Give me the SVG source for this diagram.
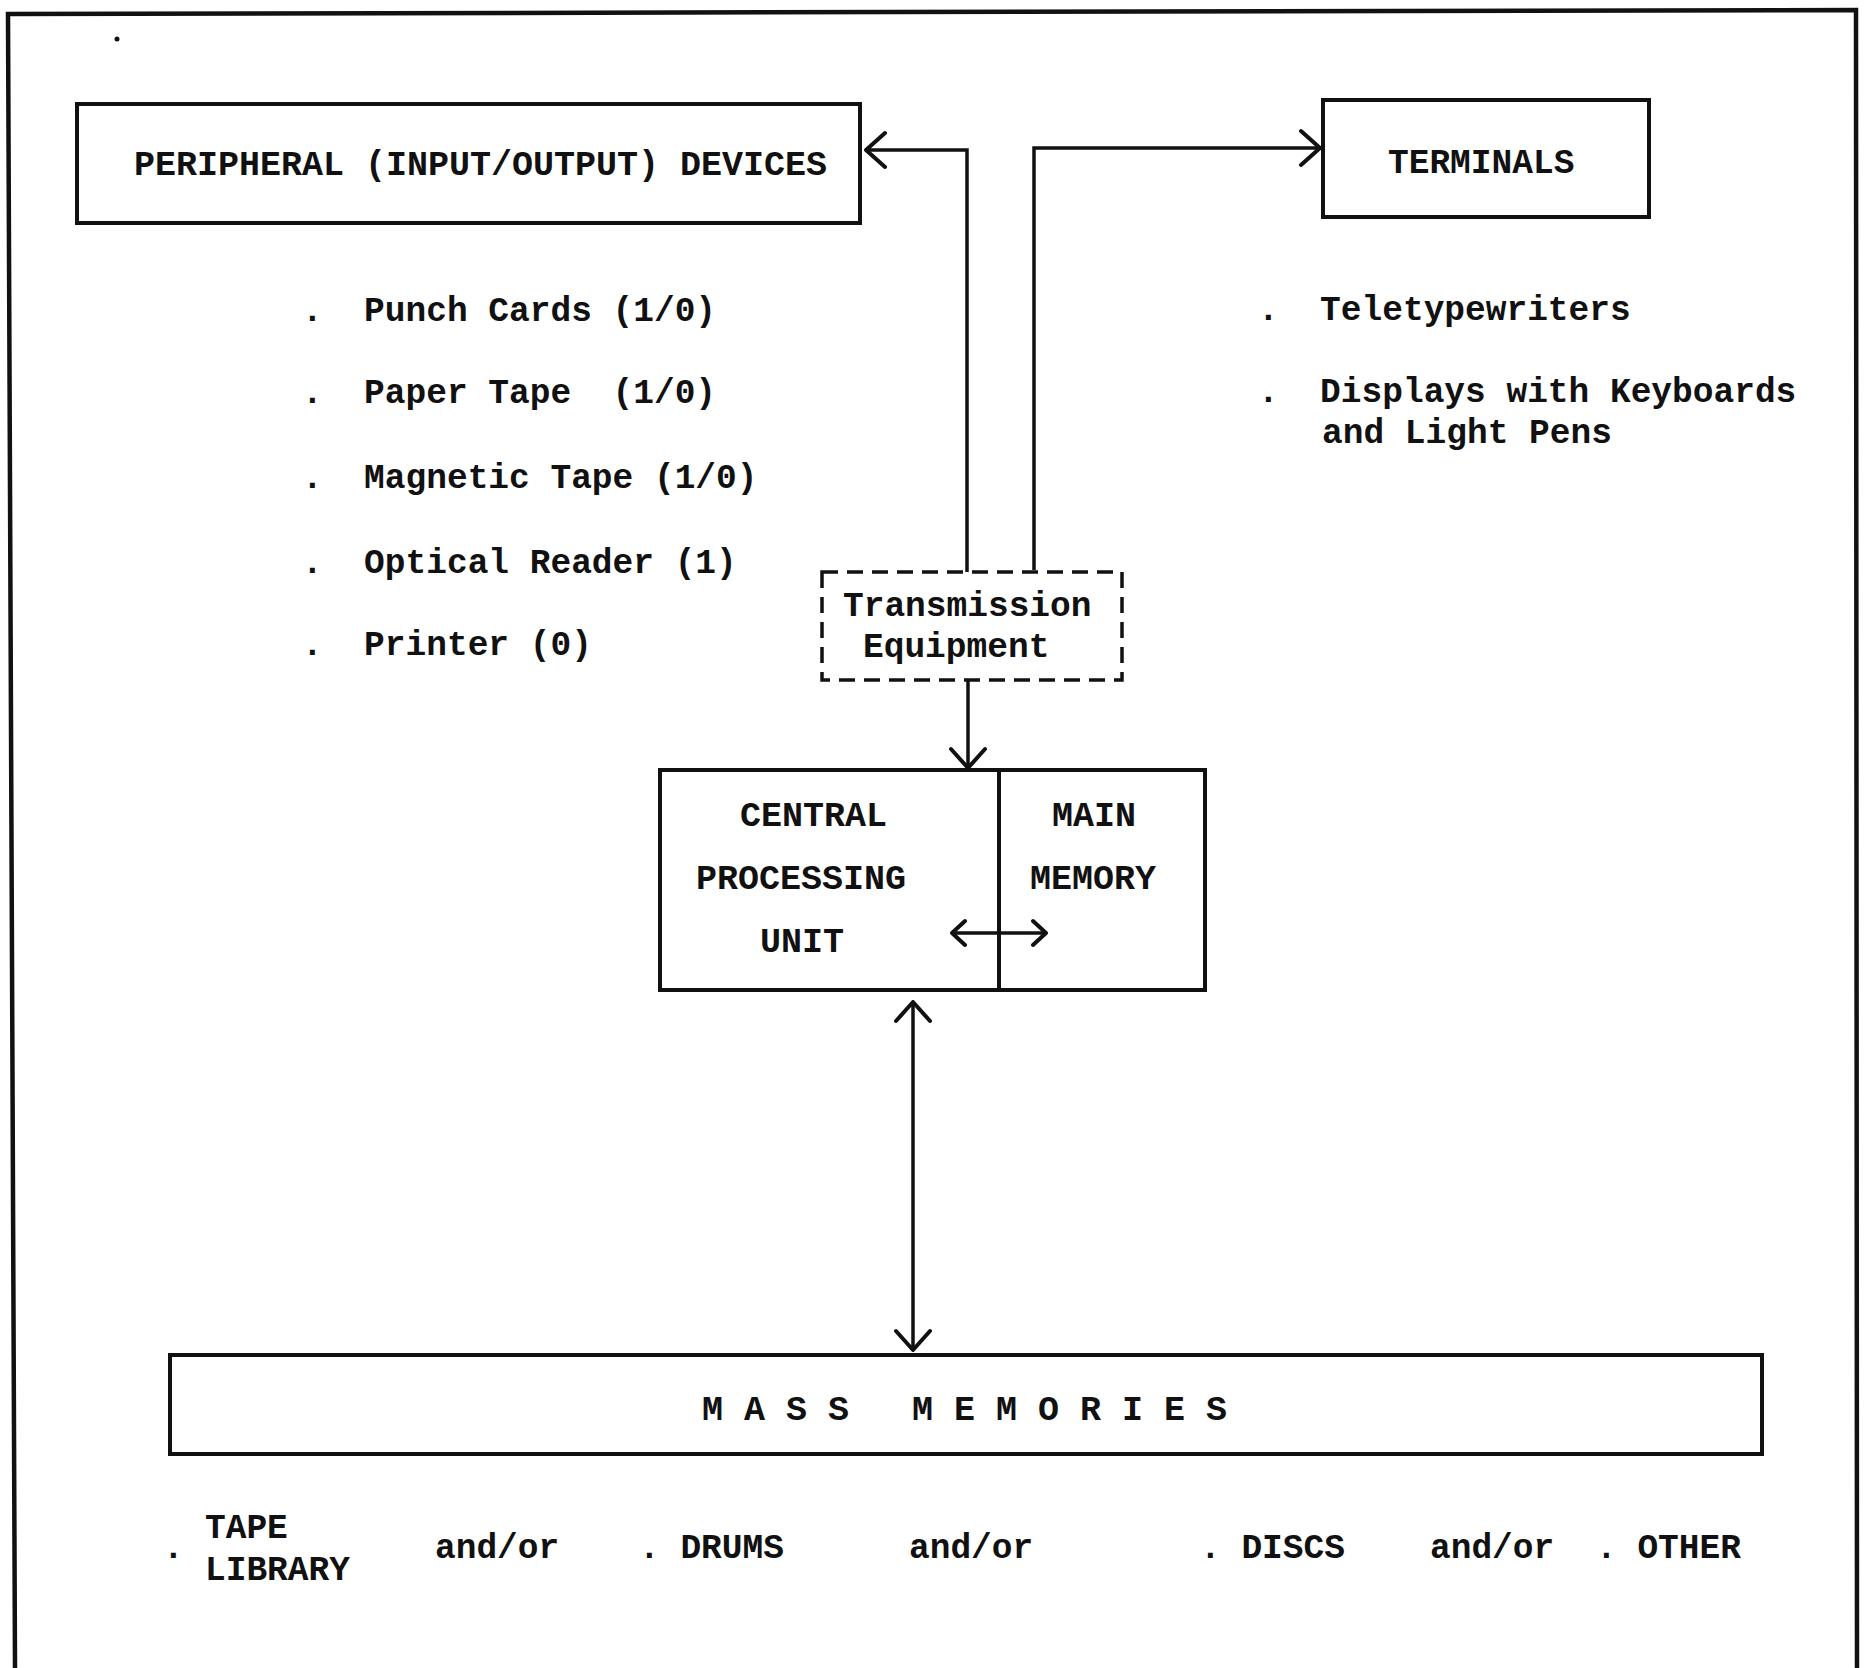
<svg xmlns="http://www.w3.org/2000/svg" width="1866" height="1668" viewBox="0 0 1866 1668">
<style>
  .box { fill: none; stroke: #111; stroke-width: 4; }
  .dash { fill: none; stroke: #111; stroke-width: 3.5; stroke-dasharray: 16 9; }
  .line { fill: none; stroke: #111; stroke-width: 3.5; }
  .t { font-family: "Liberation Mono", "Courier New", monospace; font-weight: bold; fill: #111; white-space: pre; }
  .t35 { font-size: 35px; }
  .t34 { font-size: 34.5px; }
</style>
<defs>
  <marker id="v" viewBox="0 0 24 40" refX="22" refY="20" markerWidth="24" markerHeight="40" markerUnits="userSpaceOnUse" orient="auto-start-reverse">
    <path d="M3,3 L22,20 L3,37" fill="none" stroke="#111" stroke-width="4" stroke-linecap="round" stroke-linejoin="round"/>
  </marker>
  <marker id="vs" viewBox="0 0 18 30" refX="16" refY="15" markerWidth="18" markerHeight="30" markerUnits="userSpaceOnUse" orient="auto-start-reverse">
    <path d="M3,3 L16,15 L3,27" fill="none" stroke="#111" stroke-width="4" stroke-linecap="round" stroke-linejoin="round"/>
  </marker>
</defs>
<rect width="1866" height="1668" fill="#fff"/>
<path d="M15,1668 L8,14 L1856,10 L1857,1668" fill="none" stroke="#111" stroke-width="4.5"/>
<circle cx="117" cy="39" r="2.5" fill="#111"/>

<g id="peripheral">
  <rect class="box" x="77" y="104" width="783" height="119"/>
  <text class="t t35" x="134" y="175">PERIPHERAL (INPUT/OUTPUT) DEVICES</text>
</g>
<g id="peripheral-list">
  <text class="t t34" x="302" y="321" xml:space="preserve">.  Punch Cards (1/0)</text>
  <text class="t t34" x="302" y="403" xml:space="preserve">.  Paper Tape  (1/0)</text>
  <text class="t t34" x="302" y="488" xml:space="preserve">.  Magnetic Tape (1/0)</text>
  <text class="t t34" x="302" y="573" xml:space="preserve">.  Optical Reader (1)</text>
  <text class="t t34" x="302" y="655" xml:space="preserve">.  Printer (0)</text>
</g>
<g id="terminals">
  <rect class="box" x="1323" y="100" width="326" height="117"/>
  <text class="t t34" x="1388" y="173">TERMINALS</text>
</g>
<g id="terminals-list">
  <text class="t t34" x="1258" y="320" xml:space="preserve">.  Teletypewriters</text>
  <text class="t t34" x="1258" y="402" xml:space="preserve">.  Displays with Keyboards</text>
  <text class="t t34" x="1322" y="443">and Light Pens</text>
</g>
<g id="transmission">
  <rect class="dash" x="822" y="572" width="300" height="108"/>
  <text class="t t34" x="843" y="616">Transmission</text>
  <text class="t t34" x="863" y="657">Equipment</text>
</g>
<g id="cpu">
  <rect class="box" x="660" y="770" width="545" height="220"/>
  <line class="box" x1="999" y1="770" x2="999" y2="990"/>
  <text class="t t35" x="740" y="826">CENTRAL</text>
  <text class="t t35" x="696" y="889">PROCESSING</text>
  <text class="t t35" x="760" y="952">UNIT</text>
  <text class="t t35" x="1052" y="826">MAIN</text>
  <text class="t t35" x="1030" y="889">MEMORY</text>
</g>
<g id="mass-memories">
  <rect class="box" x="170" y="1355" width="1592" height="99"/>
  <text class="t t35" x="702" y="1420" xml:space="preserve">M A S S   M E M O R I E S</text>
</g>
<g id="mass-list">
  <text class="t t34" x="163" y="1558">.</text>
  <text class="t t34" x="205" y="1538">TAPE</text>
  <text class="t t34" x="205" y="1580">LIBRARY</text>
  <text class="t t34" x="435" y="1558">and/or</text>
  <text class="t t34" x="639" y="1558" xml:space="preserve">. DRUMS</text>
  <text class="t t34" x="909" y="1558">and/or</text>
  <text class="t t34" x="1200" y="1558" xml:space="preserve">. DISCS</text>
  <text class="t t34" x="1430" y="1558">and/or</text>
  <text class="t t34" x="1596" y="1558" xml:space="preserve">. OTHER</text>
</g>
<g id="connectors">
  <path class="line" d="M967,572 V150 H866" marker-end="url(#v)"/>
  <path class="line" d="M1034,570 V148 H1320" marker-end="url(#v)"/>
  <path class="line" d="M968,681 V768" marker-end="url(#v)"/>
  <path class="line" d="M913,1002 V1350" marker-start="url(#v)" marker-end="url(#v)"/>
  <path class="line" d="M952,933 H1046" marker-start="url(#vs)" marker-end="url(#vs)"/>
</g>
</svg>
